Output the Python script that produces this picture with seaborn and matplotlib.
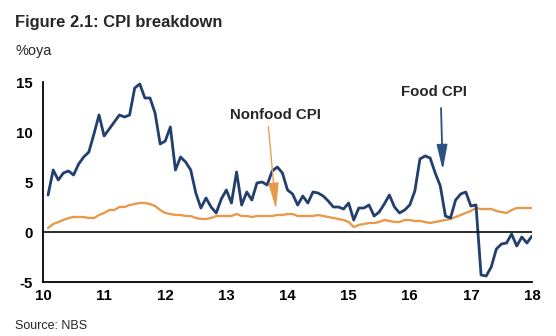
import numpy as np
import pandas as pd
import matplotlib
matplotlib.use("Agg")
import matplotlib.pyplot as plt
import seaborn as sns

# Monthly data, Jan 2010 - Dec 2017 (%oya)
food_cpi = [
    3.7, 6.2, 5.2, 5.9, 6.1, 5.7, 6.8, 7.5, 8.0, 9.8, 11.7, 9.6,      # 2010
    10.3, 11.0, 11.7, 11.5, 11.7, 14.4, 14.8, 13.4, 13.4, 11.9, 8.8, 9.1,  # 2011
    10.5, 6.2, 7.5, 7.0, 6.2, 3.9, 2.4, 3.4, 2.5, 1.9, 3.3, 4.2,      # 2012
    2.9, 6.0, 2.7, 4.0, 3.2, 4.9, 5.0, 4.7, 6.1, 6.5, 5.9, 4.2,       # 2013
    3.8, 2.7, 3.6, 2.9, 4.0, 3.9, 3.6, 3.1, 2.5, 2.5, 2.3, 2.9,       # 2014
    1.2, 2.4, 2.4, 2.7, 1.6, 2.0, 2.8, 3.7, 2.5, 1.9, 2.2, 2.7,       # 2015
    4.1, 7.3, 7.6, 7.4, 5.9, 4.6, 1.6, 1.4, 3.2, 3.8, 4.0, 2.6,       # 2016
    2.7, -4.3, -4.4, -3.5, -1.7, -1.2, -1.1, -0.2, -1.4, -0.5, -1.1, -0.4,  # 2017
]
nonfood_cpi = [
    0.4, 0.8, 1.0, 1.2, 1.4, 1.5, 1.5, 1.5, 1.4, 1.4, 1.7, 1.9,       # 2010
    2.2, 2.2, 2.5, 2.5, 2.7, 2.8, 2.9, 2.9, 2.8, 2.6, 2.2, 1.9,       # 2011
    1.8, 1.7, 1.7, 1.6, 1.6, 1.4, 1.3, 1.3, 1.4, 1.6, 1.6, 1.6,       # 2012
    1.6, 1.8, 1.6, 1.6, 1.5, 1.6, 1.6, 1.6, 1.6, 1.7, 1.7, 1.8,       # 2013
    1.8, 1.6, 1.6, 1.6, 1.6, 1.7, 1.6, 1.5, 1.4, 1.3, 1.2, 1.0,       # 2014
    0.5, 0.7, 0.8, 0.9, 0.9, 1.0, 1.2, 1.1, 1.0, 1.0, 1.2, 1.2,       # 2015
    1.1, 1.1, 1.0, 0.9, 1.0, 1.1, 1.2, 1.3, 1.5, 1.7, 1.9, 2.1,       # 2016
    2.4, 2.3, 2.3, 2.3, 2.1, 2.0, 1.9, 2.2, 2.4, 2.4, 2.4, 2.4,       # 2017
]
x_ticks = [10, 11, 12, 13, 14, 15, 16, 17, 18]
y_ticks = [-5, 0, 5, 10, 15]

n = len(food_cpi)
t = [10 + (m + 1) / 12 for m in range(n)]
df = pd.DataFrame({
    "t": t * 2,
    "value": food_cpi + nonfood_cpi,
    "series": ["Food CPI"] * n + ["Nonfood CPI"] * n,
})

sns.set_style("white")
plt.rcParams["font.family"] = ["Liberation Sans", "DejaVu Sans"]

BLUE = "#233f6e"
ORANGE = "#e8984a"

fig = plt.figure(figsize=(556 / 72, 336 / 72), dpi=72)
ax = fig.add_axes([43 / 556, 1 - 282 / 336, (532 - 43) / 556, (282 - 82) / 336])

sns.lineplot(data=df, x="t", y="value", hue="series",
             palette={"Food CPI": BLUE, "Nonfood CPI": ORANGE},
             hue_order=["Nonfood CPI", "Food CPI"],
             legend=False, ax=ax)
for line in ax.get_lines():
    if line.get_color() == BLUE:
        line.set_linewidth(2.8)
        line.set_zorder(3)
    else:
        line.set_linewidth(2.3)
        line.set_zorder(2)

ax.axhline(0, color="black", lw=1.6, zorder=4)

ax.set_xlim(10, 18)
ax.set_ylim(-5, 15)
ax.set_xticks(x_ticks)
ax.set_yticks(y_ticks)
ax.set_xticklabels([str(v) for v in x_ticks], fontweight="bold", fontsize=15)
ax.set_yticklabels([str(v) for v in y_ticks], fontweight="bold", fontsize=15)
ax.set_xlabel("")
ax.set_ylabel("")
for s in ["top", "right"]:
    ax.spines[s].set_visible(False)
for s in ["left", "bottom"]:
    ax.spines[s].set_color("black")
    ax.spines[s].set_linewidth(1.8)
ax.tick_params(axis="x", direction="in", length=5, width=1.5, pad=7, colors="black")
ax.tick_params(axis="y", direction="out", length=5, width=1.5, pad=5, colors="black")

ax.annotate("Nonfood CPI", xy=(13.81, 2.3), xytext=(13.80, 11.7),
            ha="center", va="center", fontsize=15, fontweight="bold",
            arrowprops=dict(arrowstyle="-|>,head_length=1.5,head_width=0.3",
                            color=ORANGE, lw=1.3, shrinkA=2, shrinkB=0,
                            relpos=(0.42, 0.0)))
ax.annotate("Food CPI", xy=(16.54, 6.2), xytext=(16.40, 13.95),
            ha="center", va="center", fontsize=15, fontweight="bold",
            arrowprops=dict(arrowstyle="-|>,head_length=1.4,head_width=0.3",
                            color="#2c4f85", lw=1.8, shrinkA=6, shrinkB=0,
                            relpos=(0.6, 0.0)))

fig.text(15 / 556, 1 - 27 / 336, "Figure 2.1: CPI breakdown", fontsize=16.5,
         fontweight="bold", va="baseline", ha="left")
fig.text(15 / 556, 1 - 55 / 336, "%oya", fontsize=14.5, va="baseline", ha="left")
fig.text(15 / 556, 1 - 329 / 336, "Source: NBS", fontsize=12.5, va="baseline", ha="left")

fig.savefig("out.png", dpi=72)
